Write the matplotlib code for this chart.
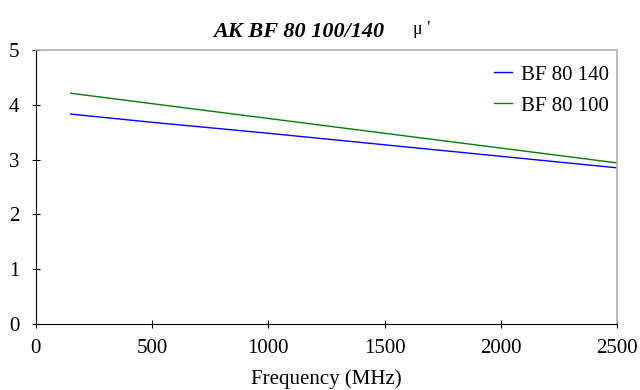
import matplotlib
matplotlib.use("Agg")
import matplotlib.pyplot as plt

plt.rcParams["font.family"] = ["Liberation Serif", "DejaVu Serif"]

freq = [150, 500, 1000, 1500, 2000, 2500]
mu_bf80_140 = [3.83, 3.68, 3.48, 3.27, 3.06, 2.85]
mu_bf80_100 = [4.21, 4.02, 3.75, 3.48, 3.21, 2.94]

xticks = [0, 500, 1000, 1500, 2000, 2500]
yticks = [0, 1, 2, 3, 4, 5]

fig = plt.figure(figsize=(6.4, 3.9), dpi=100)
ax = fig.add_axes([0.056, 0.169, 0.908, 0.703])

ax.plot(freq, mu_bf80_140, color="#0000ff", lw=1.0, label="BF 80 140")
ax.plot(freq, mu_bf80_100, color="#008000", lw=1.0, label="BF 80 100")

ax.set_xlim(0, 2500)
ax.set_ylim(0, 5)
ax.set_xticks(xticks)
ax.set_yticks(yticks)
ax.tick_params(axis="both", direction="inout", length=6, width=0.8,
               labelsize=15, colors="black")
ax.tick_params(axis="x", pad=8)
ax.tick_params(axis="y", pad=9)

for side in ("top", "right"):
    ax.spines[side].set_color("#b0b0b0")
    ax.spines[side].set_linewidth(1.2)
for side in ("left", "bottom"):
    ax.spines[side].set_color("black")
    ax.spines[side].set_linewidth(0.8)

ax.set_xlabel("Frequency (MHz)", fontsize=15, labelpad=8)

leg = ax.legend(loc="upper right", bbox_to_anchor=(1.0, 0.975),
                frameon=False, fontsize=15, handlelength=0.9,
                handletextpad=0.4, labelspacing=0.55, borderaxespad=0.0)

fig.text(0.467, 0.905, "AK BF 80 100/140", fontsize=16, fontweight="bold",
         fontstyle="italic", ha="center", va="baseline")
fig.text(0.645, 0.912, "\u03bc '", fontsize=13, ha="left", va="baseline")

fig.savefig("out.png", dpi=100)
